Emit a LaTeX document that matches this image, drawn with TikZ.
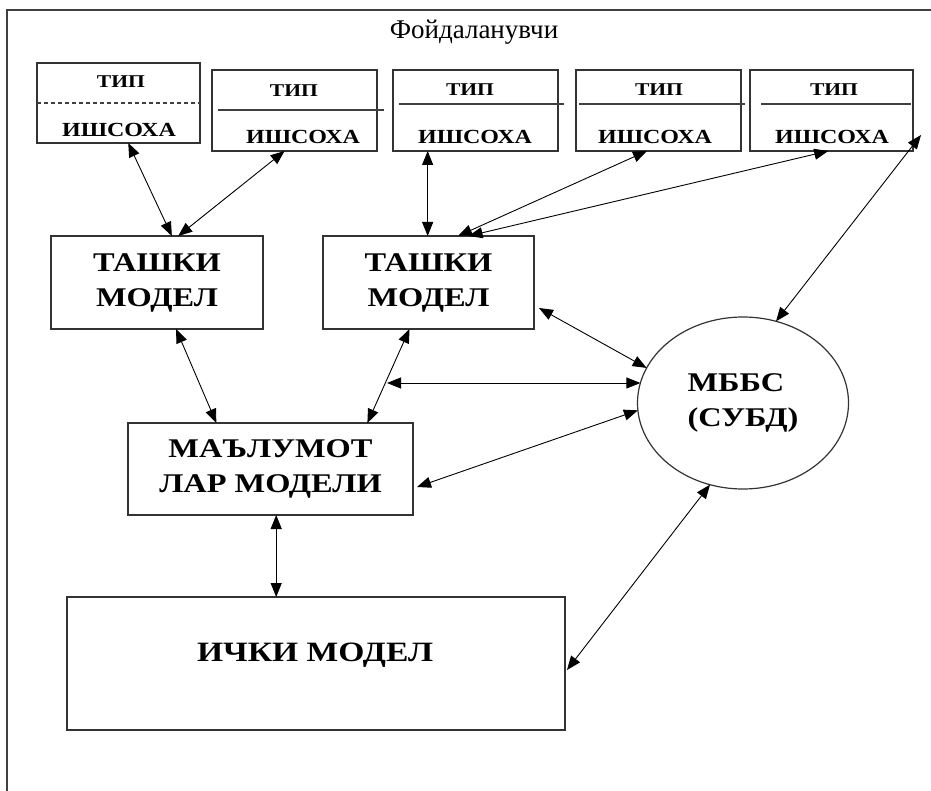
\documentclass[tikz,border=0pt]{standalone}
\usepackage{fontspec}
\setmainfont{Liberation Serif}
\newfontfamily\widefont[FakeStretch=1.2]{Liberation Serif}
\usetikzlibrary{arrows.meta,shapes.geometric,calc}

\begin{document}
\begin{tikzpicture}[x=1pt,y=-1pt,
  frame/.style={draw=black!75,line width=1.3pt},
  box/.style={draw=black!80,line width=1.3pt,inner sep=0pt,outer sep=0pt,align=center},
  divider/.style={draw=black!75,line width=1.2pt},
  link/.style={line width=0.9pt,
    {Triangle[length=14pt,width=11pt]}-{Triangle[length=14pt,width=11pt]}},
  lbl/.style={inner sep=0pt,font=\widefont\bfseries},
  tipfont/.style={lbl,font=\widefont\bfseries\fontsize{18}{20}\selectfont},
  areafont/.style={lbl,font=\widefont\bfseries\fontsize{20}{24}\selectfont},
  bigfont/.style={font=\widefont\bfseries\fontsize{27}{35}\selectfont},
]
\useasboundingbox (0,0) rectangle (931,791);

% open outer frame
\draw[frame] (7,791) -- (7,10) -- (931,10);

\node[inner sep=0pt,font=\fontsize{27}{30}\selectfont] (title) at (474,32) {Фойдаланувчи};

% user views: type / field
\node[box,minimum width=163pt,minimum height=80pt] (b1) at (118.5,103) {};
\node[box,minimum width=165pt,minimum height=81pt] (b2) at (294.5,110.5) {};
\node[box,minimum width=165pt,minimum height=81pt] (b3) at (475.5,110.5) {};
\node[box,minimum width=165pt,minimum height=81pt] (b4) at (658.5,110.5) {};
\node[box,minimum width=163pt,minimum height=81pt] (b5) at (831.5,110.5) {};

\draw[divider,dash pattern=on 4pt off 3pt] (37,103) -- (200,103);
\draw[divider] (218,110) -- (384,110);
\draw[divider] (399,104) -- (564,104);
\draw[divider] (579,104) -- (745,104);
\draw[divider] (761,104) -- (911,104);

\node[tipfont] (p1) at (121,82) {ТИП};
\node[areafont] (s1) at (119,130) {ИШСОХА};
\node[tipfont] (p2) at (294,91) {ТИП};
\node[areafont] (s2) at (303,137) {ИШСОХА};
\node[tipfont] (p3) at (470,90) {ТИП};
\node[areafont] (s3) at (475,137) {ИШСОХА};
\node[tipfont] (p4) at (659,90) {ТИП};
\node[areafont] (s4) at (655,137) {ИШСОХА};
\node[tipfont] (p5) at (834,90) {ТИП};
\node[areafont] (s5) at (832,137) {ИШСОХА};

% external models
\node[box,bigfont,minimum width=212pt,minimum height=93pt] (t1) at (157,282.5) {ТАШКИ\\МОДЕЛ};
\node[box,bigfont,minimum width=211pt,minimum height=93pt] (t2) at (428.5,282.5) {ТАШКИ\\МОДЕЛ};

% data model
\node[box,bigfont,minimum width=285pt,minimum height=92pt] (m) at (270.5,469) {МАЪЛУМОТ\\ЛАР МОДЕЛИ};

% internal model
\node[box,minimum width=498pt,minimum height=133pt] (i) at (316,663.5) {};
\node[lbl,font=\widefont\bfseries\fontsize{28}{32}\selectfont] (ilbl) at (315,655) {ИЧКИ МОДЕЛ};

% DBMS
\node[ellipse,draw=black!80,line width=1.2pt,minimum width=211pt,minimum height=172pt,
      inner sep=0pt,outer sep=0pt,align=left,bigfont] (db) at (743,403) {МББС\\(СУБД)};

% connectors
\coordinate (fr) at (921,135);
\coordinate (hl) at (387,383);

\draw[link] ($(b1.south west)!0.56!(b1.south east)$) -- ($(t1.north west)!0.57!(t1.north east)$);
\draw[link] ($(b2.south west)!0.44!(b2.south east)$) -- ($(t1.north west)!0.60!(t1.north east)$);
\path ($(b3.south west)!0.21!(b3.south east)$) coordinate (b3s);
\draw[link] (b3s) -- (b3s |- t2.north);
\draw[link] ($(b4.south west)!0.43!(b4.south east)$) -- ($(t2.north west)!0.64!(t2.north east)$);
\draw[link] ($(b5.south west)!0.48!(b5.south east)$) -- ($(t2.north west)!0.69!(t2.north east)$);
\draw[link] (fr) -- (db.68);

\draw[link] ($(t2.south east)+(5,-21)$) -- (db.160);
\draw[link] (hl) -- (hl -| db.169);
\draw[link] ($(m.south east)+(4,-28)$) -- (db.184);

\draw[link] ($(t1.south west)!0.59!(t1.south east)$) -- ($(m.north west)!0.31!(m.north east)$);
\draw[link] ($(t2.south west)!0.41!(t2.south east)$) -- ($(m.north west)!0.84!(m.north east)$);

\path ($(m.south west)!0.52!(m.south east)$) coordinate (mb);
\draw[link] (mb) -- (mb |- i.north);

\draw[link] (db.248) -- ($(i.south east)+(2,-60)$);
\end{tikzpicture}
\end{document}
